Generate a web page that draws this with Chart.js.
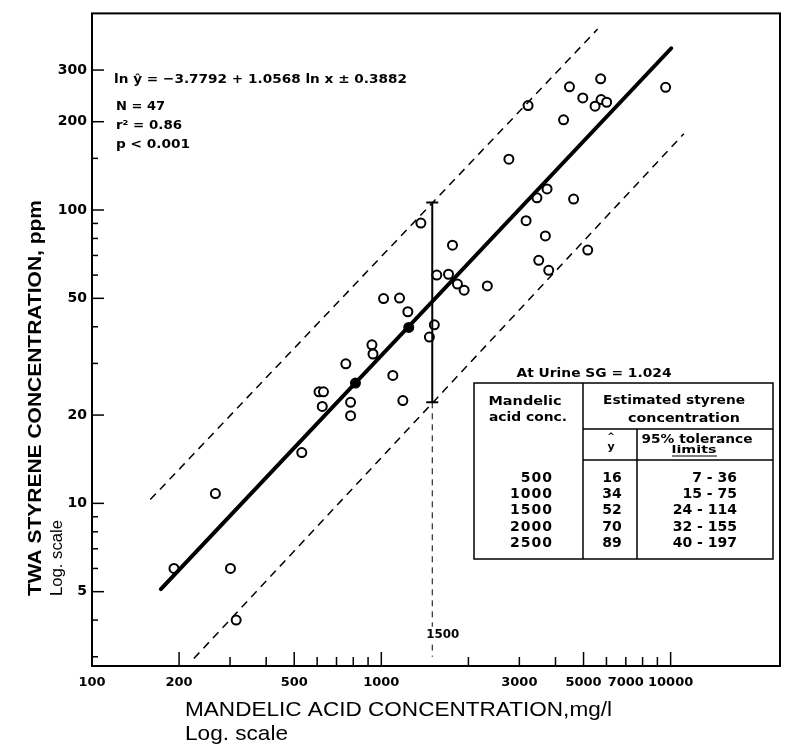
<!DOCTYPE html>
<html>
<head>
<meta charset="utf-8">
<script src="https://cdn.jsdelivr.net/npm/chart.js@4.4.1/dist/chart.umd.min.js"></script>
<style>
  html, body { margin: 0; padding: 0; background: #fff; }
</style>
</head>
<body>
<canvas id="chart" width="789" height="751"></canvas>
<script>
// open circles: mandelic acid (mg/l) and TWA styrene (ppm)
const mandelic = [3215, 5730, 4470, 4970, 5750, 6010, 5480, 4265, 9610, 2760,
  3740, 3450, 4620, 3165, 3690, 5170, 3500, 3790, 1370, 1762,
  1555, 1707, 1833, 1933, 2325, 1525, 1466, 1018, 1156, 1235,
  928, 936, 754, 1096, 609, 631, 625, 783, 783, 1187,
  531, 267, 192, 301, 315];
const styrene = [227, 280, 263, 241, 238, 233, 226, 203, 262, 149,
  118, 110, 109, 92, 81.6, 73, 67.4, 62.3, 90.3, 75.9,
  60, 60.4, 55.9, 53.3, 55.1, 40.6, 36.9, 49.9, 50.1, 45,
  34.7, 32.3, 29.9, 27.3, 24.0, 24.0, 21.4, 22.1, 19.9, 22.4,
  14.9, 10.8, 6.0, 6.0, 4.0];
// the two points printed solid
const solidMandelic = [1244, 814];
const solidStyrene = [39.8, 25.7];

// regression line and 95% tolerance limits (end points as drawn)
const fitX = [173, 10050];
const fitY = [5.1, 356];
const upperX = [159, 5596];
const upperY = [10.3, 414];
const lowerX = [225, 11110];
const lowerY = [2.96, 182];
// interval at 1500 mg/l
const barX = 1500;
const barY = [22.1, 106];
const guideY = [22.1, 3.8, null, 3.3, 3.0];

// axes
const xTicks = [200, 300, 400, 500, 600, 700, 800, 900, 1000, 2000, 3000, 4000, 5000, 6000, 7000, 8000, 9000, 10000];
const xMajor = [200, 500, 1000, 5000, 10000];
const xTickLabels = [100, 200, 500, 1000, 3000, 5000, 7000, 10000];
const yTicks = [3, 4, 5, 6, 7, 8, 9, 10, 20, 30, 40, 50, 60, 70, 80, 90, 100, 150, 200, 300];
const yTickLabels = [5, 10, 20, 50, 100, 200, 300];

// inset table
const tableConc = [500, 1000, 1500, 2000, 2500];
const tableYhat = [16, 34, 52, 70, 89];
const tolLow = [7, 15, 24, 32, 40];
const tolHigh = [36, 75, 114, 155, 197];

const X_MIN = 100, X_MAX = 23880, Y_MIN = 2.79, Y_MAX = 468;

function pts(xs, ys) {
  return xs.map((v, i) => ({ x: v, y: ys[i] }));
}

function txt(ctx, s, x, y, o) {
  ctx.save();
  ctx.font = o.font;
  ctx.fillStyle = '#000';
  ctx.textAlign = o.align || 'left';
  ctx.textBaseline = 'middle';
  ctx.letterSpacing = o.spacing || '0px';
  ctx.translate(x, y);
  if (o.width) {
    const w = ctx.measureText(s).width;
    ctx.scale(o.width / w, 1);
  }
  ctx.fillText(s, 0, 0);
  ctx.restore();
}

function seg(ctx, x1, y1, x2, y2) {
  ctx.beginPath();
  ctx.moveTo(x1, y1);
  ctx.lineTo(x2, y2);
  ctx.stroke();
}

const BOLD = 'bold 13px "DejaVu Sans"';

const decor = {
  id: 'decor',
  afterDraw(chart) {
    const { ctx, chartArea: a, scales: { x, y } } = chart;
    ctx.save();
    ctx.strokeStyle = '#000';

    // frame
    ctx.lineWidth = 2;
    ctx.strokeRect(a.left, a.top, a.right - a.left, a.bottom - a.top);

    // tick marks point into the plot
    ctx.lineWidth = 1.5;
    xTicks.forEach(v => {
      const px = x.getPixelForValue(v);
      seg(ctx, px, a.bottom, px, a.bottom - (xMajor.includes(v) ? 14 : 9));
    });
    yTicks.forEach(v => {
      const py = y.getPixelForValue(v);
      seg(ctx, a.left, py, a.left + (yTickLabels.includes(v) ? 12 : 6), py);
    });

    // 1500 label by the guide line
    txt(ctx, '1500', x.getPixelForValue(barX) - 6, y.getPixelForValue(3.55), { font: 'bold 12px "DejaVu Sans"', width: 33 });

    // axis titles
    ctx.save();
    ctx.translate(36, 596);
    ctx.rotate(-Math.PI / 2);
    txt(ctx, 'TWA STYRENE CONCENTRATION, ppm', 0, 0, { font: 'bold 18px "Liberation Sans"', width: 396 });
    txt(ctx, 'Log. scale', 0, 21, { font: '17px "Liberation Sans"', width: 76 });
    ctx.restore();
    txt(ctx, 'MANDELIC ACID CONCENTRATION,mg/l', 185, 710, { font: '21px "Liberation Sans"', width: 427 });
    txt(ctx, 'Log. scale', 185, 734, { font: '21px "Liberation Sans"', width: 103 });

    // regression statistics
    txt(ctx, 'ln ŷ = −3.7792 + 1.0568 ln x ± 0.3882', 114, 80, { font: BOLD, width: 293 });
    txt(ctx, 'N = 47', 116, 107, { font: BOLD, width: 49 });
    txt(ctx, 'r² = 0.86', 116, 126, { font: BOLD, width: 66 });
    txt(ctx, 'p < 0.001', 116, 145, { font: BOLD, width: 74 });

    // table
    txt(ctx, 'At Urine SG = 1.024', 594, 374, { font: BOLD, align: 'center', width: 155 });
    ctx.lineWidth = 1.5;
    ctx.strokeRect(474, 383, 299, 176);
    seg(ctx, 583, 383, 583, 559);
    seg(ctx, 583, 429, 773, 429);
    seg(ctx, 637, 429, 637, 559);
    seg(ctx, 583, 460, 773, 460);
    txt(ctx, 'Mandelic', 525, 402, { font: BOLD, align: 'center', width: 73 });
    txt(ctx, 'acid conc.', 528, 418, { font: BOLD, align: 'center', width: 78 });
    txt(ctx, 'Estimated styrene', 674, 401, { font: BOLD, align: 'center', width: 142 });
    txt(ctx, 'concentration', 684, 419, { font: BOLD, align: 'center', width: 112 });
    txt(ctx, '^', 611, 437, { font: 'bold 9px "DejaVu Sans"', align: 'center' });
    txt(ctx, 'y', 611, 447, { font: 'bold 11px "DejaVu Sans"', align: 'center' });
    txt(ctx, '95% tolerance', 697, 440, { font: 'bold 12px "DejaVu Sans"', align: 'center', width: 111 });
    txt(ctx, 'limits', 694, 450, { font: 'bold 10px "DejaVu Sans"', align: 'center', width: 45 });
    ctx.lineWidth = 1;
    seg(ctx, 672, 456, 717, 456);
    const rowY = [478, 494, 510, 527, 543];
    const rowFont = 'bold 14px "DejaVu Sans"';
    tableConc.forEach((c, i) => {
      const ry = rowY[i];
      txt(ctx, String(c), 553, ry, { font: rowFont, align: 'right', spacing: '1px' });
      txt(ctx, String(tableYhat[i]), 612, ry, { font: rowFont, align: 'center' });
      txt(ctx, tolLow[i] + ' - ' + tolHigh[i], 737, ry, { font: rowFont, align: 'right' });
    });

    ctx.restore();
  }
};

new Chart(document.getElementById('chart'), {
  type: 'scatter',
  data: {
    datasets: [
      {
        data: pts(fitX, fitY), showLine: true, borderColor: '#000', borderWidth: 4,
        pointRadius: 0, borderCapStyle: 'round'
      },
      {
        data: pts(upperX, upperY), showLine: true, borderColor: '#000', borderWidth: 1.5,
        borderDash: [8, 6], pointRadius: 0
      },
      {
        data: pts(lowerX, lowerY), showLine: true, borderColor: '#000', borderWidth: 1.5,
        borderDash: [8, 6], pointRadius: 0
      },
      {
        data: guideY.map(v => ({ x: barX, y: v })), showLine: true, spanGaps: false,
        borderColor: '#000', borderWidth: 1, borderDash: [6, 5], pointRadius: 0
      },
      {
        data: barY.map(v => ({ x: barX, y: v })), showLine: true, borderColor: '#000', borderWidth: 2,
        pointStyle: 'line', pointRadius: 6, pointBorderWidth: 2, pointBorderColor: '#000'
      },
      {
        data: pts(mandelic, styrene), pointRadius: 4.5, pointBorderWidth: 2,
        pointBackgroundColor: '#fff', pointBorderColor: '#000'
      },
      {
        data: pts(solidMandelic, solidStyrene), pointRadius: 4.5, pointBorderWidth: 2,
        pointBackgroundColor: '#000', pointBorderColor: '#000'
      }
    ]
  },
  options: {
    responsive: false,
    animation: false,
    layout: { padding: { top: 12, right: 5, left: 0, bottom: 0 } },
    plugins: { legend: { display: false }, tooltip: { enabled: false } },
    scales: {
      x: {
        type: 'logarithmic', min: X_MIN, max: X_MAX,
        afterBuildTicks: s => { s.ticks = [X_MIN].concat(xTicks, [X_MAX]).map(v => ({ value: v })); },
        afterFit: s => { s.height = 85; },
        grid: { display: false, drawTicks: false },
        border: { display: false },
        ticks: {
          autoSkip: false, maxRotation: 0, padding: 9, color: '#000',
          font: { family: 'DejaVu Sans', weight: 'bold', size: 13 },
          callback: v => xTickLabels.includes(v) ? String(v) : ''
        }
      },
      y: {
        type: 'logarithmic', min: Y_MIN, max: Y_MAX,
        afterBuildTicks: s => { s.ticks = yTicks.map(v => ({ value: v })); },
        afterFit: s => { s.width = 92; },
        grid: { display: false, drawTicks: false },
        border: { display: false },
        ticks: {
          autoSkip: false, padding: 5, color: '#000',
          font: { family: 'DejaVu Sans', weight: 'bold', size: 14 },
          callback: v => yTickLabels.includes(v) ? String(v) : ''
        }
      }
    }
  },
  plugins: [decor]
});
</script>
</body>
</html>
